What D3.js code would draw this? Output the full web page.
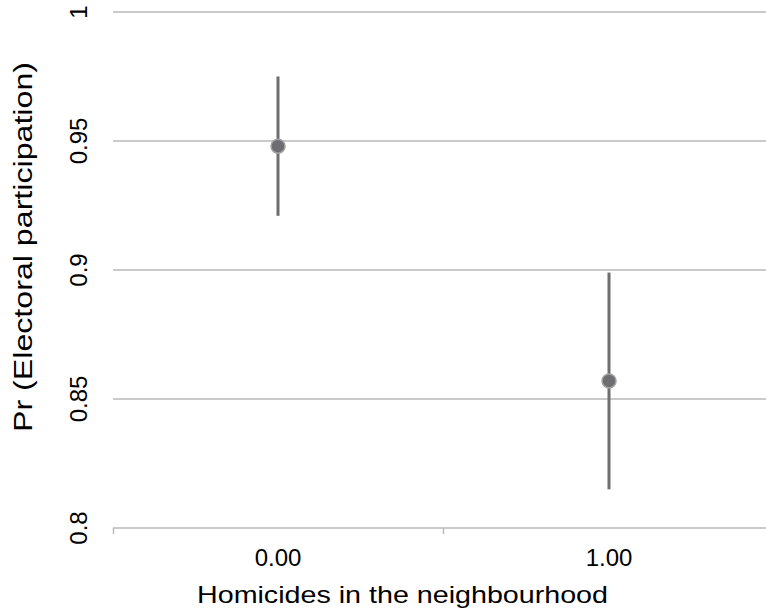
<!DOCTYPE html>
<html>
<head>
<meta charset="utf-8">
<script src="https://cdn.jsdelivr.net/npm/d3@7"></script>
<style>
  html, body { margin: 0; padding: 0; background: #fff; }
  svg text { font-family: "Liberation Sans", Arial, sans-serif; fill: #000; }
</style>
</head>
<body>
<svg id="chart" width="766" height="612"></svg>
<script>
const categories = ["0.00", "1.00"];
const estimates = [0.948, 0.857];
const lowerCI = [0.921, 0.815];
const upperCI = [0.975, 0.899];
const yTicks = [0.8, 0.85, 0.9, 0.95, 1];
const yTickLabels = ["0.8", "0.85", "0.9", "0.95", "1"];
const xTitle = "Homicides in the neighbourhood";
const yTitle = "Pr (Electoral participation)";

const svg = d3.select("#chart");
const gridColor = "#b9b9b9";
const markColor = "#6d6d72";

const x = d3.scaleBand().domain(categories).range([112.5, 774.5]).padding(0);
const y = d3.scaleLinear().domain([0.8, 1]).range([528, 12]);

// gridlines
svg.append("g").selectAll("line.grid")
  .data(yTicks.filter(t => t > 0.8))
  .join("line")
  .attr("x1", 113).attr("x2", 766)
  .attr("y1", d => y(d)).attr("y2", d => y(d))
  .attr("stroke", gridColor).attr("stroke-width", 1.5);

// bottom axis line
svg.append("line")
  .attr("x1", 113).attr("x2", 766)
  .attr("y1", y(0.8)).attr("y2", y(0.8))
  .attr("stroke", gridColor).attr("stroke-width", 1.5);

// x boundary ticks
const bounds = categories.map(c => x(c));
svg.append("g").selectAll("line.xt")
  .data(bounds)
  .join("line")
  .attr("x1", d => Math.max(d, 113.5)).attr("x2", d => Math.max(d, 113.5))
  .attr("y1", y(0.8)).attr("y2", y(0.8) + 6)
  .attr("stroke", gridColor).attr("stroke-width", 1.5);

// y tick labels (rotated)
svg.append("g").selectAll("text.yl")
  .data(yTicks)
  .join("text")
  .attr("transform", (d) => `translate(87,${y(d)}) rotate(-90)`)
  .attr("text-anchor", "middle")
  .attr("font-size", 24)
  .text((d, i) => yTickLabels[i]);

// x tick labels
svg.append("g").selectAll("text.xl")
  .data(categories)
  .join("text")
  .attr("x", d => x(d) + x.bandwidth() / 2)
  .attr("y", 566)
  .attr("text-anchor", "middle")
  .attr("font-size", 24)
  .text(d => d);

// titles
svg.append("text")
  .attr("x", 402.5).attr("y", 603)
  .attr("text-anchor", "middle")
  .attr("font-size", 24)
  .attr("textLength", 411)
  .attr("lengthAdjust", "spacingAndGlyphs")
  .text(xTitle);

svg.append("text")
  .attr("transform", "translate(32,247) rotate(-90)")
  .attr("text-anchor", "middle")
  .attr("font-size", 25)
  .attr("textLength", 370)
  .attr("lengthAdjust", "spacingAndGlyphs")
  .text(yTitle);

// error bars
const data = categories.map((c, i) => ({ c, est: estimates[i], lo: lowerCI[i], hi: upperCI[i] }));
svg.append("g").selectAll("line.err")
  .data(data)
  .join("line")
  .attr("x1", d => x(d.c) + x.bandwidth() / 2)
  .attr("x2", d => x(d.c) + x.bandwidth() / 2)
  .attr("y1", d => y(d.lo)).attr("y2", d => y(d.hi))
  .attr("stroke", markColor).attr("stroke-width", 3);

svg.append("g").selectAll("circle.pt")
  .data(data)
  .join("circle")
  .attr("cx", d => x(d.c) + x.bandwidth() / 2)
  .attr("cy", d => y(d.est))
  .attr("r", 7)
  .attr("fill", markColor)
  .attr("stroke", "#a3a3a6").attr("stroke-width", 1.5);
</script>
</body>
</html>
